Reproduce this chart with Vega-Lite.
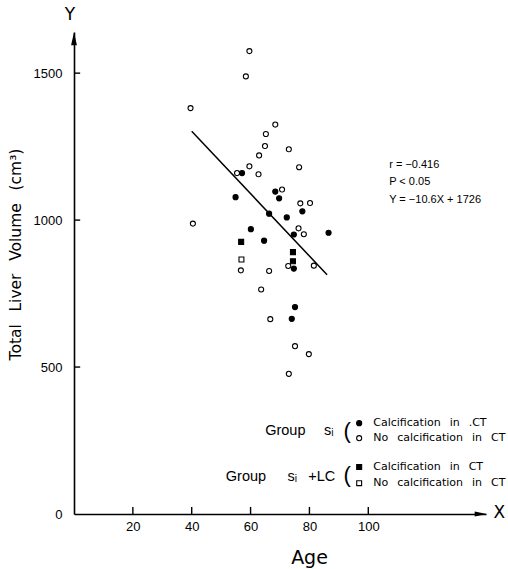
{
  "$schema": "https://vega.github.io/schema/vega-lite/v6.json",
  "width": 412,
  "height": 482,
  "autosize": {"type": "none"},
  "padding": {"left": 74, "top": 32, "right": 22, "bottom": 55},
  "config": {
    "view": {"stroke": null},
    "font": "Liberation Sans",
    "axis": {
      "grid": false,
      "ticks": false,
      "domainColor": "black",
      "domainWidth": 1.6,
      "labelColor": "black",
      "titleColor": "black",
      "labelFont": "Liberation Sans",
      "titleFont": "DejaVu Sans",
      "titleFontWeight": "normal"
    }
  },
  "encoding": {
    "x": {
      "field": "x",
      "type": "quantitative",
      "scale": {"domain": [0, 140], "nice": false, "zero": false},
      "axis": {
        "values": [20, 40, 60, 80, 100],
        "format": "d",
        "labelPadding": 6,
        "labelFontSize": 13,
        "title": "Age",
        "titleFontSize": 19,
        "titleX": 235,
        "titleY": 43,
        "titleBaseline": "middle"
      }
    },
    "y": {
      "field": "y",
      "type": "quantitative",
      "scale": {"domain": [0, 1640], "nice": false, "zero": false},
      "axis": {
        "values": [0, 500, 1000, 1500],
        "format": "d",
        "labelPadding": 12,
        "labelFontSize": 13,
        "title": "Total \u2002Liver \u2002Volume \u2002(cm³)",
        "titleFontSize": 15.5,
        "titleAngle": -90,
        "titleX": -59,
        "titleY": 222,
        "titleAlign": "center",
        "titleBaseline": "middle"
      }
    }
  },
  "layer": [
    {
      "data": {"values": [{"x": 40, "y": 1302}, {"x": 86, "y": 814}]},
      "mark": {"type": "line", "color": "black", "strokeWidth": 1.5}
    },
    {
      "data": {"values": [{"x": 0, "y": 500}, {"x": 2.1, "y": 500}]},
      "mark": {"type": "line", "color": "black", "strokeWidth": 1.4}
    },
    {
      "data": {"values": [{"x": 0, "y": 1000}, {"x": 2.1, "y": 1000}]},
      "mark": {"type": "line", "color": "black", "strokeWidth": 1.4}
    },
    {
      "data": {"values": [{"x": 0, "y": 1500}, {"x": 2.1, "y": 1500}]},
      "mark": {"type": "line", "color": "black", "strokeWidth": 1.4}
    },
    {
      "data": {"values": [{"x": 20, "y": 0}, {"x": 20, "y": 24}]},
      "mark": {"type": "line", "color": "black", "strokeWidth": 1.4}
    },
    {
      "data": {"values": [{"x": 40, "y": 0}, {"x": 40, "y": 24}]},
      "mark": {"type": "line", "color": "black", "strokeWidth": 1.4}
    },
    {
      "data": {"values": [{"x": 60, "y": 0}, {"x": 60, "y": 24}]},
      "mark": {"type": "line", "color": "black", "strokeWidth": 1.4}
    },
    {
      "data": {"values": [{"x": 80, "y": 0}, {"x": 80, "y": 24}]},
      "mark": {"type": "line", "color": "black", "strokeWidth": 1.4}
    },
    {
      "data": {"values": [{"x": 100, "y": 0}, {"x": 100, "y": 24}]},
      "mark": {"type": "line", "color": "black", "strokeWidth": 1.4}
    },
    {
      "data": {"values": [
        {"type": "oc", "x": 59.6, "y": 1575},
        {"type": "oc", "x": 58.4, "y": 1489},
        {"type": "oc", "x": 39.6, "y": 1381},
        {"type": "oc", "x": 68.4, "y": 1325},
        {"type": "oc", "x": 65.2, "y": 1293},
        {"type": "oc", "x": 64.9, "y": 1252},
        {"type": "oc", "x": 73.0, "y": 1241},
        {"type": "oc", "x": 62.9, "y": 1220},
        {"type": "oc", "x": 59.6, "y": 1183},
        {"type": "oc", "x": 76.5, "y": 1180},
        {"type": "oc", "x": 55.4, "y": 1160},
        {"type": "fc", "x": 57.1, "y": 1160},
        {"type": "oc", "x": 62.7, "y": 1156},
        {"type": "fc", "x": 68.4, "y": 1097},
        {"type": "oc", "x": 70.7, "y": 1104},
        {"type": "fc", "x": 54.9, "y": 1078},
        {"type": "fc", "x": 69.7, "y": 1074},
        {"type": "oc", "x": 76.9, "y": 1057},
        {"type": "oc", "x": 80.2, "y": 1058},
        {"type": "fc", "x": 66.3, "y": 1022},
        {"type": "fc", "x": 72.3, "y": 1009},
        {"type": "fc", "x": 77.6, "y": 1030},
        {"type": "oc", "x": 40.4, "y": 988},
        {"type": "fc", "x": 60.1, "y": 969},
        {"type": "oc", "x": 76.3, "y": 972},
        {"type": "oc", "x": 78.1, "y": 952},
        {"type": "fc", "x": 74.7, "y": 951},
        {"type": "fc", "x": 86.5, "y": 957},
        {"type": "fs", "x": 56.8, "y": 926},
        {"type": "fc", "x": 64.6, "y": 930},
        {"type": "fs", "x": 74.4, "y": 891},
        {"type": "fs", "x": 74.4, "y": 860},
        {"type": "fc", "x": 74.7, "y": 835},
        {"type": "oc", "x": 72.8, "y": 844},
        {"type": "oc", "x": 81.5, "y": 845},
        {"type": "os", "x": 56.9, "y": 866},
        {"type": "oc", "x": 56.7, "y": 829},
        {"type": "oc", "x": 66.3, "y": 827},
        {"type": "oc", "x": 63.6, "y": 764},
        {"type": "fc", "x": 75.1, "y": 704},
        {"type": "oc", "x": 66.7, "y": 663},
        {"type": "fc", "x": 74.0, "y": 664},
        {"type": "oc", "x": 75.1, "y": 571},
        {"type": "oc", "x": 79.8, "y": 544},
        {"type": "oc", "x": 73.0, "y": 477},
        {"type": "fc", "x": 96.9, "y": 309},
        {"type": "oc", "x": 96.9, "y": 258},
        {"type": "fs", "x": 96.9, "y": 160},
        {"type": "os", "x": 96.9, "y": 105}
      ]},
      "mark": {"type": "point", "filled": true, "stroke": "black", "strokeWidth": 1.1, "opacity": 1},
      "encoding": {
        "shape": {"field": "type", "type": "nominal", "scale": {"domain": ["fc", "oc", "fs", "os"], "range": ["circle", "circle", "square", "square"]}, "legend": null},
        "fill": {"field": "type", "type": "nominal", "scale": {"domain": ["fc", "oc", "fs", "os"], "range": ["black", "white", "black", "white"]}, "legend": null},
        "size": {"field": "type", "type": "ordinal", "scale": {"domain": ["fc", "oc", "fs", "os"], "range": [26, 24, 36, 34]}, "legend": null}
      }
    },
    {
      "data": {"values": [{"x": 0, "y": 1617}]},
      "mark": {"type": "point", "shape": "M0,-1L0.45,1L-0.45,1Z", "size": 169, "filled": true, "color": "black", "opacity": 1}
    },
    {
      "data": {"values": [{"x": 138.2, "y": 0}]},
      "mark": {"type": "point", "shape": "M1,0L-1,-0.4L-1,0.4Z", "size": 144, "filled": true, "color": "black", "opacity": 1}
    },
    {
      "data": {"values": [{"x": -1.4, "y": 1697, "t": "Y"}, {"x": 144.5, "y": 2, "t": "X"}]},
      "mark": {"type": "text", "font": "DejaVu Sans", "fontSize": 17, "align": "center", "baseline": "middle", "color": "black"},
      "encoding": {"text": {"field": "t"}}
    },
    {
      "data": {"values": [
        {"x": 107.1, "y": 1187, "t": "r = −0.416"},
        {"x": 107.1, "y": 1129, "t": "P < 0.05"},
        {"x": 107.1, "y": 1068, "t": "Y = −10.6X + 1726"}
      ]},
      "mark": {"type": "text", "fontSize": 11, "align": "left", "baseline": "middle", "color": "black"},
      "encoding": {"text": {"field": "t"}}
    },
    {
      "data": {"values": [
        {"x": 101.7, "y": 309, "t": "Calcification \u2002in \u2002.CT"},
        {"x": 101.7, "y": 258, "t": "No \u2002calcification \u2002in \u2002CT"},
        {"x": 101.7, "y": 160, "t": "Calcification \u2002in \u2002CT"},
        {"x": 101.7, "y": 105, "t": "No \u2002calcification \u2002in \u2002CT"}
      ]},
      "mark": {"type": "text", "font": "DejaVu Sans", "fontSize": 11, "align": "left", "baseline": "middle", "color": "black"},
      "encoding": {"text": {"field": "t"}}
    },
    {
      "data": {"values": [
        {"x": 88.2, "y": 282, "t": "Group \u2002\u2002sᵢ"},
        {"x": 88.8, "y": 126, "t": "Group \u2002\u2002\u2009sᵢ \u2002+LC"}
      ]},
      "mark": {"type": "text", "fontSize": 14.5, "align": "right", "baseline": "middle", "color": "black"},
      "encoding": {"text": {"field": "t"}}
    },
    {
      "data": {"values": [
        {"x": 92.8, "y": 284, "t": "("},
        {"x": 92.8, "y": 131, "t": "("}
      ]},
      "mark": {"type": "text", "fontSize": 22, "align": "center", "baseline": "middle", "color": "black"},
      "encoding": {"text": {"field": "t"}}
    }
  ]
}
